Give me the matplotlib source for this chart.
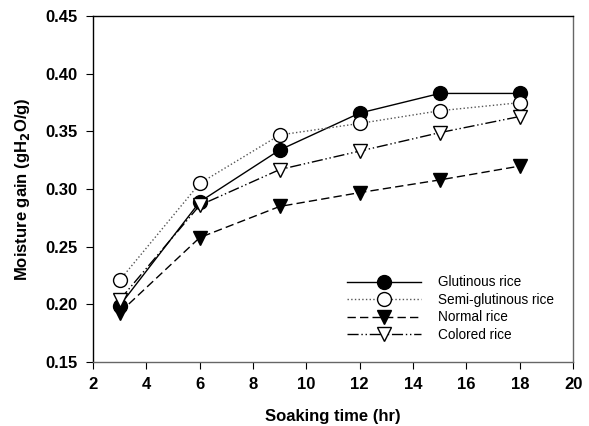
import matplotlib
matplotlib.use("Agg")
import matplotlib.pyplot as plt

plt.rcParams['font.family'] = ['Liberation Sans', 'DejaVu Sans']

# soaking time (hr)
time_hr = [3, 6, 9, 12, 15, 18]

# moisture gain (gH2O/g)
glutinous = [0.199, 0.289, 0.334, 0.366, 0.383, 0.383]
semi_glutinous = [0.221, 0.305, 0.347, 0.357, 0.368, 0.375]
normal = [0.193, 0.258, 0.285, 0.297, 0.308, 0.320]
colored = [0.204, 0.286, 0.317, 0.333, 0.349, 0.363]

fig = plt.figure(figsize=(5.89, 4.26), dpi=100)
ax = fig.add_axes([0.158, 0.150, 0.815, 0.812])

ms = 10
ax.plot(time_hr, glutinous, color="black", ls="-", lw=1.0, marker="o", ms=ms,
        mfc="black", mec="black", label="Glutinous rice")
ax.plot(time_hr, semi_glutinous, color="#555555", ls=":", lw=1.0, marker="o", ms=ms,
        mfc="white", mec="black", label="Semi-glutinous rice")
ax.plot(time_hr, normal, color="black", ls=(0, (6, 3)), lw=1.0, marker="v", ms=ms,
        mfc="black", mec="black", label="Normal rice")
ax.plot(time_hr, colored, color="black", ls=(0, (8, 2, 1, 2, 1, 2)), lw=1.0, marker="v", ms=ms,
        mfc="white", mec="black", label="Colored rice")

ax.set_xlim(2, 20)
ax.set_ylim(0.15, 0.45)
ax.set_xticks(range(2, 21, 2))
ax.set_yticks([0.15, 0.20, 0.25, 0.30, 0.35, 0.40, 0.45])
ax.set_yticklabels(["0.15", "0.20", "0.25", "0.30", "0.35", "0.40", "0.45"])

for lab in ax.get_xticklabels() + ax.get_yticklabels():
    lab.set_fontweight("bold")
ax.tick_params(direction="out", length=5, labelsize=12, top=False, right=False, pad=6)

for s in ax.spines.values():
    s.set_linewidth(1.0)
ax.spines["right"].set_color("#666666")
ax.spines["bottom"].set_color("#666666")

ax.set_xlabel("Soaking time (hr)", fontsize=12, fontweight="bold", labelpad=12)
ax.set_ylabel(r"Moisture gain (gH$_\mathbf{2}$O/g)", fontsize=12, fontweight="bold", labelpad=10)

ax.legend(loc="lower right", bbox_to_anchor=(0.985, 0.023), frameon=False, fontsize=9.8,
          handlelength=5.4, labelspacing=0.26, handletextpad=1.25)

fig.savefig("out.png", dpi=100)
